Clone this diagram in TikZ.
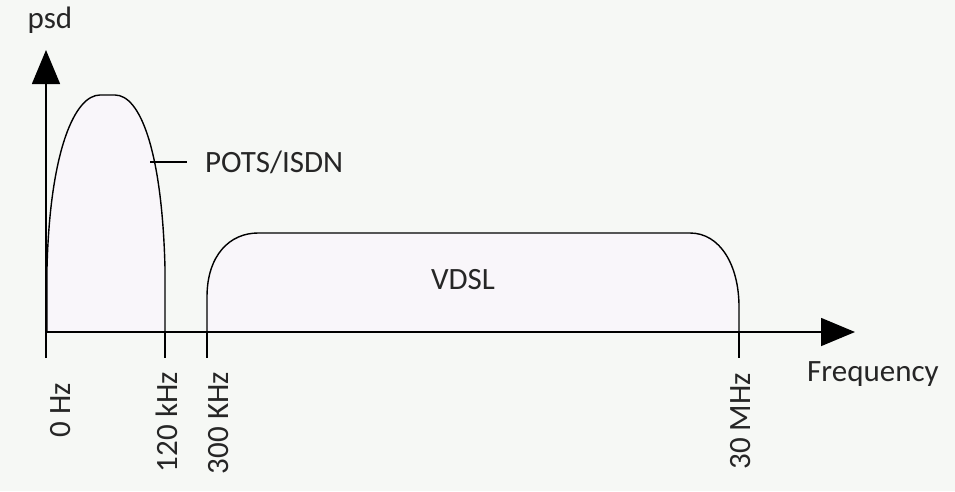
\documentclass[tikz,border=0pt]{standalone}
\usepackage{fontspec}
\setmainfont{Carlito}
\usetikzlibrary{arrows.meta}

\begin{document}
\begin{tikzpicture}[
      x=1pt,y=-1pt,
      font=\fontsize{31}{31}\selectfont,
      axis/.style={line width=1.6pt,-{Triangle[length=34pt,width=28pt]}},
      tick/.style={line width=1.6pt},
      band/.style={line width=1.4pt,fill=bandfill},
      lbl/.style={inner sep=0pt,text=black!85},
      ticklbl/.style={lbl,rotate=90,anchor=east}
    ]
    \definecolor{bandfill}{RGB}{249,246,250}
    \definecolor{bgfill}{RGB}{246,248,245}
    \fill[bgfill] (0,0) rectangle (955,491);
    \useasboundingbox (0,0) rectangle (955,491);
    % Axis points.
    \coordinate (origin) at (46,332);
    \coordinate (ytip) at (46,50);
    \coordinate (xtip) at (855,332);
    % Fill the two bands.
    \draw[band] (47,332) -- (47,268) .. controls (50,150) and (75,95) .. (100,95)
      -- (115,95) .. controls (140,95) and (162,150) .. (165,268) -- (165,332);
    \draw[band] (207,332) -- (207,297) .. controls (207,255) and (230,233) .. (258,233)
      -- (690,233) .. controls (720,233) and (739,265) .. (739,307) -- (739,332);
    % Draw the axes.
    \coordinate (ybase) at (46,358);
    \draw[axis] (ybase) -- (ytip);
    \draw[axis] (origin) -- (xtip);
    \node[lbl,anchor=base] (psd) at (50,28) {psd};
    \node[lbl,anchor=north west] (freq) at (807,361) {Frequency};
    % Draw the ticks.
    \coordinate (t120) at (165,332);
    \coordinate (t300) at (207,332);
    \coordinate (t30m) at (739,332);
    \draw[tick] (t120) -- ++(0,26);
    \draw[tick] (t300) -- ++(0,26);
    \draw[tick] (t30m) -- ++(0,26);
    \node[ticklbl] (l0) at (61,383) {0 Hz};
    \node[ticklbl] (l120) at (167,372) {120 kHz};
    \node[ticklbl] (l300) at (219,372) {300 KHz};
    \node[ticklbl] (l30m) at (741,373) {30 MHz};
    % Label the bands.
    \coordinate (potsedge) at (150,162);
    \node[lbl,anchor=west,inner xsep=18pt] (pots) at (187,162) {POTS/ISDN};
    \draw[tick] (potsedge) -- (pots.west);
    \node[lbl] (vdsl) at (463,280) {VDSL};
\end{tikzpicture}
\end{document}
